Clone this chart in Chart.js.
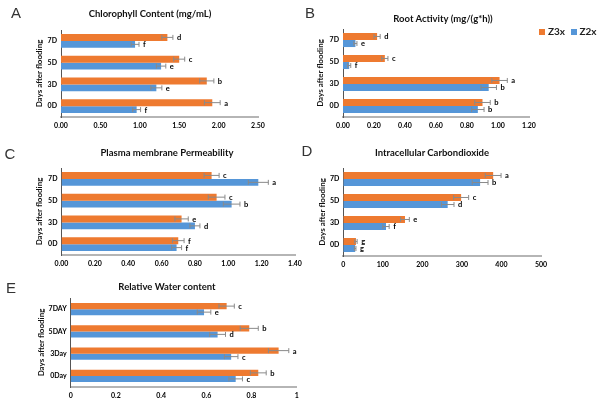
<!DOCTYPE html>
<html>
<head>
<meta charset="utf-8">
<script src="https://cdn.jsdelivr.net/npm/chart.js@4.4.1/dist/chart.umd.min.js"></script>
<style>
body { margin: 0; background: #fff; }
#panel { position: relative; width: 600px; height: 405px; overflow: hidden; background: #fff; }
canvas { position: absolute; }
.letra { position: absolute; font-family: "Liberation Sans", Arial, sans-serif; font-size: 15px; color: #333; transform: translate(-50%, -50%); }
.titulo { position: absolute; font-family: Lato, sans-serif; font-weight: bold; font-size: 9.5px; color: #111; white-space: nowrap; transform: translate(-50%, -50%); }
.leyenda { position: absolute; left: 539px; top: 25px; font-family: Lato, sans-serif; font-weight: bold; font-size: 10px; color: #222; white-space: nowrap; }
.leyenda span.cuadro { display: inline-block; width: 6px; height: 6px; margin-right: 3px; vertical-align: 0px; }
</style>
</head>
<body>
<div id="panel">
  <canvas id="grafA" width="300" height="135" style="left:0px;top:0px"></canvas>
  <canvas id="grafB" width="300" height="135" style="left:300px;top:0px"></canvas>
  <canvas id="grafC" width="315" height="135" style="left:0px;top:135px"></canvas>
  <canvas id="grafD" width="300" height="135" style="left:300px;top:135px"></canvas>
  <canvas id="grafE" width="315" height="135" style="left:0px;top:270px"></canvas>

  <div class="letra" style="left:16px;top:12px">A</div>
  <div class="letra" style="left:310px;top:12px">B</div>
  <div class="letra" style="left:10px;top:153px">C</div>
  <div class="letra" style="left:307px;top:150px">D</div>
  <div class="letra" style="left:11px;top:287px">E</div>

  <div class="titulo" style="left:150px;top:13px">Chlorophyll Content (mg/mL)</div>
  <div class="titulo" style="left:443px;top:18px">Root Activity (mg/(g*h))</div>
  <div class="titulo" style="left:167px;top:152px">Plasma membrane Permeability</div>
  <div class="titulo" style="left:432px;top:152px">Intracellular Carbondioxide</div>
  <div class="titulo" style="left:167px;top:286px">Relative Water content</div>

  <div class="leyenda">
    <span class="cuadro" style="background:#EE7A30"></span>Z3x
    <span class="cuadro" style="background:#5596D8;margin-left:3px"></span>Z2x
  </div>
</div>
<script>
// categorias (de arriba hacia abajo)
const dias = ['7D', '5D', '3D', '0D'];
const diasE = ['7DAY', '5DAY', '3Day', '0Day'];

// A - Chlorophyll Content
const clorofilaZ3x = [1.35, 1.50, 1.85, 1.92];
const clorofilaZ2x = [0.94, 1.27, 1.21, 0.96];
const clorofilaErrZ3x = [0.07, 0.07, 0.09, 0.10];
const clorofilaErrZ2x = [0.05, 0.06, 0.07, 0.05];
const clorofilaLetZ3x = ['d', 'c', 'b', 'a'];
const clorofilaLetZ2x = ['f', 'e', 'e', 'f'];
const clorofilaTicks = [0, 0.5, 1, 1.5, 2, 2.5];

// B - Root Activity
const raizZ3x = [0.22, 0.27, 1.01, 0.90];
const raizZ2x = [0.08, 0.04, 0.94, 0.87];
const raizErrZ3x = [0.02, 0.02, 0.05, 0.05];
const raizErrZ2x = [0.01, 0.01, 0.05, 0.04];
const raizLetZ3x = ['d', 'c', 'a', 'b'];
const raizLetZ2x = ['e', 'f', 'b', 'b'];
const raizTicks = [0, 0.2, 0.4, 0.6, 0.8, 1.0, 1.2];

// C - Plasma membrane Permeability
const membranaZ3x = [0.90, 0.93, 0.72, 0.70];
const membranaZ2x = [1.18, 1.02, 0.80, 0.69];
const membranaErrZ3x = [0.045, 0.05, 0.04, 0.035];
const membranaErrZ2x = [0.06, 0.05, 0.03, 0.03];
const membranaLetZ3x = ['c', 'c', 'e', 'f'];
const membranaLetZ2x = ['a', 'b', 'd', 'f'];
const membranaTicks = [0, 0.2, 0.4, 0.6, 0.8, 1.0, 1.2, 1.4];

// D - Intracellular Carbondioxide
const co2Z3x = [379, 298, 156, 32];
const co2Z2x = [346, 264, 108, 30];
const co2ErrZ3x = [20, 19, 11, 3];
const co2ErrZ2x = [20, 16, 8, 2];
const co2LetZ3x = ['a', 'c', 'e', 'g'];
const co2LetZ2x = ['b', 'd', 'f', 'g'];
const co2Ticks = [0, 100, 200, 300, 400, 500];

// E - Relative Water content
const aguaZ3x = [0.69, 0.79, 0.92, 0.83];
const aguaZ2x = [0.59, 0.65, 0.71, 0.73];
const aguaErrZ3x = [0.034, 0.04, 0.045, 0.035];
const aguaErrZ2x = [0.03, 0.035, 0.03, 0.03];
const aguaLetZ3x = ['c', 'b', 'a', 'b'];
const aguaLetZ2x = ['e', 'd', 'c', 'c'];
const aguaTicks = [0, 0.2, 0.4, 0.6, 0.8, 1];

const naranja = '#EE7A30';
const azul = '#5596D8';
const fuente = 'Lato, sans-serif';

// dibuja barras de error y letras de significancia
const barrasError = {
    id: 'barrasError',
    afterDatasetsDraw(chart) {
        const ctx = chart.ctx;
        const escalaX = chart.scales.x;
        chart.data.datasets.forEach((ds, i) => {
            const meta = chart.getDatasetMeta(i);
            meta.data.forEach((barra, j) => {
                const v = ds.data[j];
                const e = ds.errores[j];
                const x1 = escalaX.getPixelForValue(v - e);
                const x2 = escalaX.getPixelForValue(v + e);
                const y = barra.y;
                ctx.save();
                ctx.strokeStyle = '#8a8a8a';
                ctx.lineWidth = 1;
                ctx.beginPath();
                ctx.moveTo(x1, y); ctx.lineTo(x2, y);
                ctx.moveTo(x1, y - 2.5); ctx.lineTo(x1, y + 2.5);
                ctx.moveTo(x2, y - 2.5); ctx.lineTo(x2, y + 2.5);
                ctx.stroke();
                ctx.fillStyle = '#000';
                ctx.font = 'bold 7.5px ' + fuente;
                ctx.textBaseline = 'middle';
                ctx.textAlign = 'left';
                ctx.fillText(ds.letras[j], Math.max(x2, barra.x) + 4, y + 0.5);
                ctx.restore();
            });
        });
    }
};

function crearGrafico(id, cfg) {
    return new Chart(document.getElementById(id), {
        type: 'bar',
        data: {
            labels: cfg.etiquetas,
            datasets: [
                { label: 'Z3x', data: cfg.z3x, errores: cfg.errZ3x, letras: cfg.letZ3x, backgroundColor: naranja },
                { label: 'Z2x', data: cfg.z2x, errores: cfg.errZ2x, letras: cfg.letZ2x, backgroundColor: azul }
            ]
        },
        options: {
            indexAxis: 'y',
            responsive: false,
            animation: false,
            layout: { padding: cfg.padding },
            datasets: { bar: { categoryPercentage: cfg.catPct, barPercentage: 1 } },
            plugins: {
                legend: { display: false },
                tooltip: { enabled: false },
                title: { display: false }
            },
            scales: {
                x: {
                    min: 0,
                    max: cfg.ticks[cfg.ticks.length - 1],
                    afterBuildTicks: eje => { eje.ticks = cfg.ticks.map(v => ({ value: v })); },
                    ticks: {
                        callback: cfg.formato,
                        font: { family: fuente, size: 7, weight: 'bold' },
                        color: '#000',
                        padding: 5,
                        maxRotation: 0
                    },
                    grid: { display: false, drawTicks: false },
                    border: { color: '#b5b5b5', width: 2 },
                    afterFit: eje => { eje.height = cfg.altoX; }
                },
                y: {
                    grid: { display: false, drawTicks: false },
                    border: { color: '#555', width: 1 },
                    ticks: { font: { family: fuente, size: 7, weight: 'bold' }, color: '#000', padding: 4 },
                    title: {
                        display: true,
                        text: 'Days after flooding',
                        font: { family: fuente, size: 8, weight: 'bold' },
                        color: '#111',
                        padding: { top: 0, bottom: 0 }
                    },
                    afterFit: eje => { eje.width = cfg.anchoY; }
                }
            }
        },
        plugins: [barrasError]
    });
}

const dosDecimales = v => Number(v).toFixed(2);

crearGrafico('grafA', {
    etiquetas: dias, z3x: clorofilaZ3x, z2x: clorofilaZ2x,
    errZ3x: clorofilaErrZ3x, errZ2x: clorofilaErrZ2x,
    letZ3x: clorofilaLetZ3x, letZ2x: clorofilaLetZ2x,
    ticks: clorofilaTicks, formato: dosDecimales,
    padding: { left: 34.5, right: 42, top: 30, bottom: 3 },
    anchoY: 26.5, altoX: 15, catPct: 0.64
});

crearGrafico('grafB', {
    etiquetas: dias, z3x: raizZ3x, z2x: raizZ2x,
    errZ3x: raizErrZ3x, errZ2x: raizErrZ2x,
    letZ3x: raizLetZ3x, letZ2x: raizLetZ2x,
    ticks: raizTicks, formato: dosDecimales,
    padding: { left: 16, right: 71, top: 29, bottom: 3 },
    anchoY: 27, altoX: 15, catPct: 0.64
});

crearGrafico('grafC', {
    etiquetas: dias, z3x: membranaZ3x, z2x: membranaZ2x,
    errZ3x: membranaErrZ3x, errZ2x: membranaErrZ2x,
    letZ3x: membranaLetZ3x, letZ2x: membranaLetZ2x,
    ticks: membranaTicks, formato: dosDecimales,
    padding: { left: 35, right: 20, top: 33, bottom: 0 },
    anchoY: 26.5, altoX: 15, catPct: 0.64
});

crearGrafico('grafD', {
    etiquetas: dias, z3x: co2Z3x, z2x: co2Z2x,
    errZ3x: co2ErrZ3x, errZ2x: co2ErrZ2x,
    letZ3x: co2LetZ3x, letZ2x: co2LetZ2x,
    ticks: co2Ticks, formato: v => String(v),
    padding: { left: 18, right: 59, top: 33, bottom: 0 },
    anchoY: 25.3, altoX: 14, catPct: 0.64
});

crearGrafico('grafE', {
    etiquetas: diasE, z3x: aguaZ3x, z2x: aguaZ2x,
    errZ3x: aguaErrZ3x, errZ2x: aguaErrZ2x,
    letZ3x: aguaLetZ3x, letZ2x: aguaLetZ2x,
    ticks: aguaTicks, formato: v => String(parseFloat(Number(v).toFixed(1))),
    padding: { left: 36.2, right: 18.3, top: 28, bottom: 3 },
    anchoY: 34.5, altoX: 15, catPct: 0.54
});
</script>
</body>
</html>
